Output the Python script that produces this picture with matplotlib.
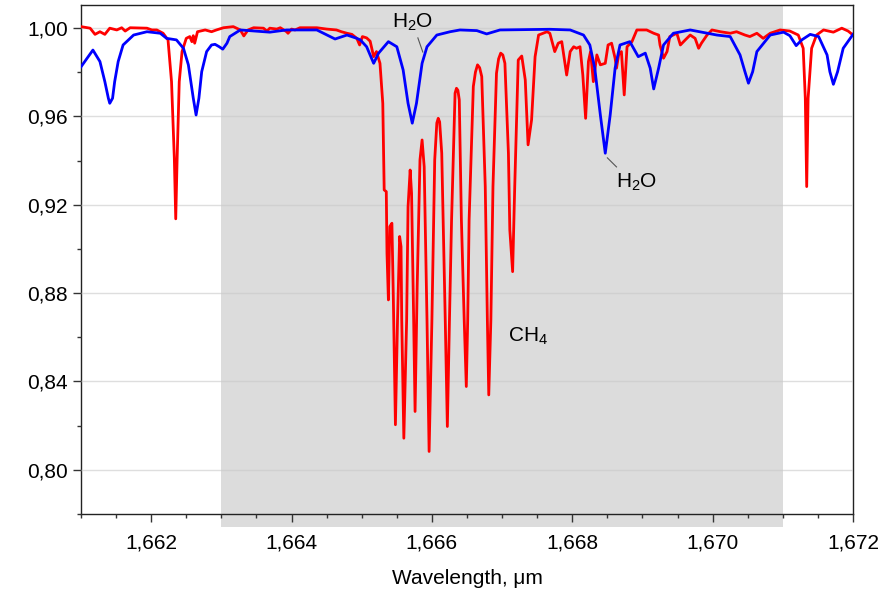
import matplotlib
matplotlib.use('Agg')
import matplotlib.pyplot as plt
from matplotlib.ticker import MultipleLocator, FuncFormatter

plt.rcParams['font.family'] = ['Liberation Sans', 'DejaVu Sans']

# H2O transmission (blue)
h2o_wl = [1.66100, 1.66117, 1.66127, 1.66134, 1.66139, 1.66141, 1.66145, 1.66148, 1.66153, 1.66160,
          1.66175, 1.66194, 1.66213, 1.66222, 1.66236, 1.66246, 1.66253, 1.66260, 1.66264, 1.66268,
          1.66272, 1.66279, 1.66286, 1.66291, 1.66297, 1.66302, 1.66308, 1.66312, 1.66327, 1.66369,
          1.66393, 1.66436, 1.66462, 1.66479, 1.66493, 1.66498, 1.66507, 1.66517, 1.66524, 1.66538,
          1.66550, 1.66559, 1.66566, 1.66572, 1.66578, 1.66586, 1.66593, 1.66607, 1.66626, 1.66640,
          1.66664, 1.66678, 1.66697, 1.66768, 1.66797, 1.66816, 1.66825, 1.66832, 1.66840, 1.66847,
          1.66854, 1.66861, 1.66868, 1.66882, 1.66894, 1.66904, 1.66911, 1.66916, 1.66923, 1.66930,
          1.66944, 1.66968, 1.67006, 1.67025, 1.67039, 1.67046, 1.67051, 1.67057, 1.67063, 1.67082,
          1.67101, 1.67110, 1.67119, 1.67127, 1.67139, 1.67151, 1.67163, 1.67167, 1.67172, 1.67178,
          1.67186, 1.67200]
h2o_tr = [0.9824, 0.9900, 0.9848, 0.9757, 0.9682, 0.9659, 0.9682, 0.9757, 0.9848, 0.9923,
          0.9968, 0.9983, 0.9976, 0.9953, 0.9946, 0.9908, 0.9833, 0.9682, 0.9606, 0.9682,
          0.9802, 0.9893, 0.9923, 0.9926, 0.9915, 0.9904, 0.9931, 0.9961, 0.9991, 0.9981,
          0.9991, 0.9991, 0.9950, 0.9968, 0.9953, 0.9946, 0.9915, 0.9840, 0.9886, 0.9938,
          0.9915, 0.9810, 0.9659, 0.9569, 0.9659, 0.9840, 0.9915, 0.9968, 0.9983, 0.9991,
          0.9988, 0.9973, 0.9991, 0.9994, 0.9991, 0.9968, 0.9923, 0.9818, 0.9606, 0.9433,
          0.9606, 0.9818, 0.9923, 0.9938, 0.9870, 0.9886, 0.9818, 0.9724, 0.9818, 0.9923,
          0.9976, 0.9991, 0.9968, 0.9961, 0.9878, 0.9802, 0.9750, 0.9802, 0.9893, 0.9968,
          0.9981, 0.9965, 0.9920, 0.9946, 0.9971, 0.9961, 0.9878, 0.9802, 0.9745, 0.9802,
          0.9908, 0.9971]

# CH4 + background transmission (red)
ch4_wl = [1.66100, 1.66113, 1.66120, 1.66127, 1.66134, 1.66141, 1.66151, 1.66158, 1.66163, 1.66170,
          1.66194, 1.66201, 1.66208, 1.66217, 1.66224, 1.66229, 1.66233, 1.66235, 1.66237, 1.66240,
          1.66244, 1.66250, 1.66255, 1.66258, 1.66260, 1.66262, 1.66266, 1.66277, 1.66286, 1.66293,
          1.66303, 1.66317, 1.66327, 1.66332, 1.66338, 1.66346, 1.66360, 1.66365, 1.66369, 1.66379,
          1.66384, 1.66393, 1.66395, 1.66400, 1.66405, 1.66412, 1.66436, 1.66450, 1.66464, 1.66471,
          1.66479, 1.66486, 1.66493, 1.66497, 1.66501, 1.66507, 1.66512, 1.66517, 1.66521, 1.66526,
          1.66530, 1.66532, 1.66535, 1.66536, 1.66538, 1.66540, 1.66543, 1.66545, 1.66548, 1.66551,
          1.66554, 1.66556, 1.66557, 1.66560, 1.66564, 1.66566, 1.66569, 1.66571, 1.66574, 1.66576,
          1.66579, 1.66583, 1.66586, 1.66589, 1.66593, 1.66596, 1.66600, 1.66604, 1.66607, 1.66609,
          1.66611, 1.66614, 1.66619, 1.66622, 1.66625, 1.66628, 1.66633, 1.66635, 1.66637, 1.66639,
          1.66642, 1.66646, 1.66649, 1.66651, 1.66653, 1.66659, 1.66662, 1.66665, 1.66668, 1.66671,
          1.66676, 1.66679, 1.66681, 1.66684, 1.66687, 1.66692, 1.66695, 1.66698, 1.66701, 1.66704,
          1.66709, 1.66711, 1.66715, 1.66718, 1.66723, 1.66728, 1.66733, 1.66737, 1.66742, 1.66747,
          1.66752, 1.66764, 1.66768, 1.66775, 1.66780, 1.66785, 1.66792, 1.66797, 1.66802, 1.66806,
          1.66811, 1.66815, 1.66819, 1.66823, 1.66826, 1.66830, 1.66835, 1.66840, 1.66847, 1.66851,
          1.66856, 1.66861, 1.66863, 1.66866, 1.66870, 1.66874, 1.66878, 1.66885, 1.66892, 1.66906,
          1.66916, 1.66923, 1.66925, 1.66930, 1.66935, 1.66939, 1.66949, 1.66954, 1.66961, 1.66968,
          1.66975, 1.66980, 1.66984, 1.66992, 1.66999, 1.67011, 1.67025, 1.67034, 1.67046, 1.67053,
          1.67063, 1.67072, 1.67082, 1.67096, 1.67110, 1.67122, 1.67129, 1.67132, 1.67134, 1.67136,
          1.67141, 1.67148, 1.67158, 1.67172, 1.67184, 1.67193, 1.67200]
ch4_tr = [1.0006, 0.9999, 0.9971, 0.9983, 0.9971, 0.9999, 0.9991, 1.0001, 0.9986, 1.0001,
          0.9999, 0.9991, 0.9991, 0.9976, 0.9946, 0.9757, 0.9410, 0.9136, 0.9410, 0.9757,
          0.9893, 0.9953, 0.9961, 0.9938, 0.9965, 0.9931, 0.9983, 0.9991, 0.9983, 0.9991,
          1.0001, 1.0006, 0.9991, 0.9964, 0.9991, 1.0001, 0.9999, 0.9986, 0.9999, 0.9995,
          1.0001, 0.9983, 0.9976, 0.9995, 0.9991, 1.0001, 1.0001, 0.9995, 0.9991, 0.9983,
          0.9976, 0.9971, 0.9953, 0.9923, 0.9961, 0.9955, 0.9940, 0.9870, 0.9893, 0.9840,
          0.9659, 0.9267, 0.9259, 0.8980, 0.8769, 0.9101, 0.9116, 0.8784, 0.8204, 0.8679,
          0.9056, 0.9010, 0.8679, 0.8143, 0.8679, 0.9191, 0.9357, 0.9252, 0.8679, 0.8264,
          0.8829, 0.9403, 0.9493, 0.9372, 0.8679, 0.8083, 0.8679, 0.9403, 0.9570, 0.9591,
          0.9575, 0.9433, 0.8679, 0.8196, 0.8679, 0.9131, 0.9705, 0.9727, 0.9718, 0.9674,
          0.9131, 0.8679, 0.8377, 0.8679, 0.9131, 0.9735, 0.9800, 0.9833, 0.9820, 0.9780,
          0.9282, 0.8679, 0.8339, 0.8679, 0.9282, 0.9795, 0.9860, 0.9886, 0.9878, 0.9840,
          0.9433, 0.9086, 0.8897, 0.9282, 0.9855, 0.9873, 0.9765, 0.9471, 0.9584, 0.9870,
          0.9968, 0.9983, 0.9976, 0.9893, 0.9931, 0.9938, 0.9787, 0.9893, 0.9915, 0.9908,
          0.9915, 0.9787, 0.9591, 0.9848, 0.9893, 0.9757, 0.9878, 0.9833, 0.9840, 0.9923,
          0.9931, 0.9863, 0.9818, 0.9878, 0.9893, 0.9697, 0.9915, 0.9938, 0.9991, 0.9991,
          0.9976, 0.9968, 0.9923, 0.9863, 0.9893, 0.9961, 0.9976, 0.9923, 0.9946, 0.9968,
          0.9953, 0.9908, 0.9931, 0.9968, 0.9991, 0.9983, 0.9976, 0.9983, 0.9968, 0.9961,
          0.9976, 0.9953, 0.9976, 0.9991, 0.9986, 0.9968, 0.9908, 0.9682, 0.9282, 0.9682,
          0.9908, 0.9968, 0.9991, 0.9981, 0.9999, 0.9986, 0.9968]

band = (1.663, 1.671)


def comma(v, pos):
    return ('%.2f' % v if v < 1.5 else '%.3f' % v).replace('.', ',')


fig = plt.figure(figsize=(8.87, 6.01), dpi=100)
ax = fig.add_axes([0.0913, 0.1448, 0.9617 - 0.0913, 0.9917 - 0.1448])

# shaded band, runs a little below the axis like in the original
ax.axvspan(band[0], band[1], ymin=-0.026, ymax=1, color='#dcdcdc', lw=0, clip_on=False, zorder=0)
ax.yaxis.grid(True, color='#c8c8c8', alpha=0.6, lw=1.0, zorder=1)
ax.set_axisbelow(False)

ax.plot(ch4_wl, ch4_tr, color='#ff0000', lw=2.0, zorder=3)
ax.plot(h2o_wl, h2o_tr, color='#0000ff', lw=2.0, zorder=4)

ax.set_xlim(1.661, 1.672)
ax.set_ylim(0.780, 1.0104)
ax.xaxis.set_major_locator(MultipleLocator(0.002))
ax.xaxis.set_minor_locator(MultipleLocator(0.0005))
ax.yaxis.set_major_locator(MultipleLocator(0.04))
ax.yaxis.set_minor_locator(MultipleLocator(0.02))
ax.xaxis.set_major_formatter(FuncFormatter(comma))
ax.yaxis.set_major_formatter(FuncFormatter(comma))
ax.tick_params(which='major', direction='out', length=6, width=1, labelsize=15, color='#333333')
ax.tick_params(which='minor', direction='out', length=3, width=1, color='#333333')
ax.tick_params(axis='x', pad=8)
for s in ax.spines.values():
    s.set_color('#222222')
    s.set_linewidth(1.0)
ax.set_xlabel('Wavelength, μm', fontsize=15, labelpad=12)

# labels
ax.text(1.66572, 1.0027, 'H$\\mathregular{_2}$O', fontsize=15, ha='center', va='center', zorder=5)
ax.plot([1.66580, 1.66587], [0.9955, 0.9891], color='#555555', lw=0.8, zorder=5)
ax.text(1.66891, 0.9303, 'H$\\mathregular{_2}$O', fontsize=15, ha='center', va='center', zorder=5)
ax.plot([1.66850, 1.66863], [0.9412, 0.9371], color='#555555', lw=0.8, zorder=5)
ax.text(1.66737, 0.8602, 'CH$\\mathregular{_4}$', fontsize=15, ha='center', va='center', zorder=5)

plt.savefig('out.png', dpi=100)
